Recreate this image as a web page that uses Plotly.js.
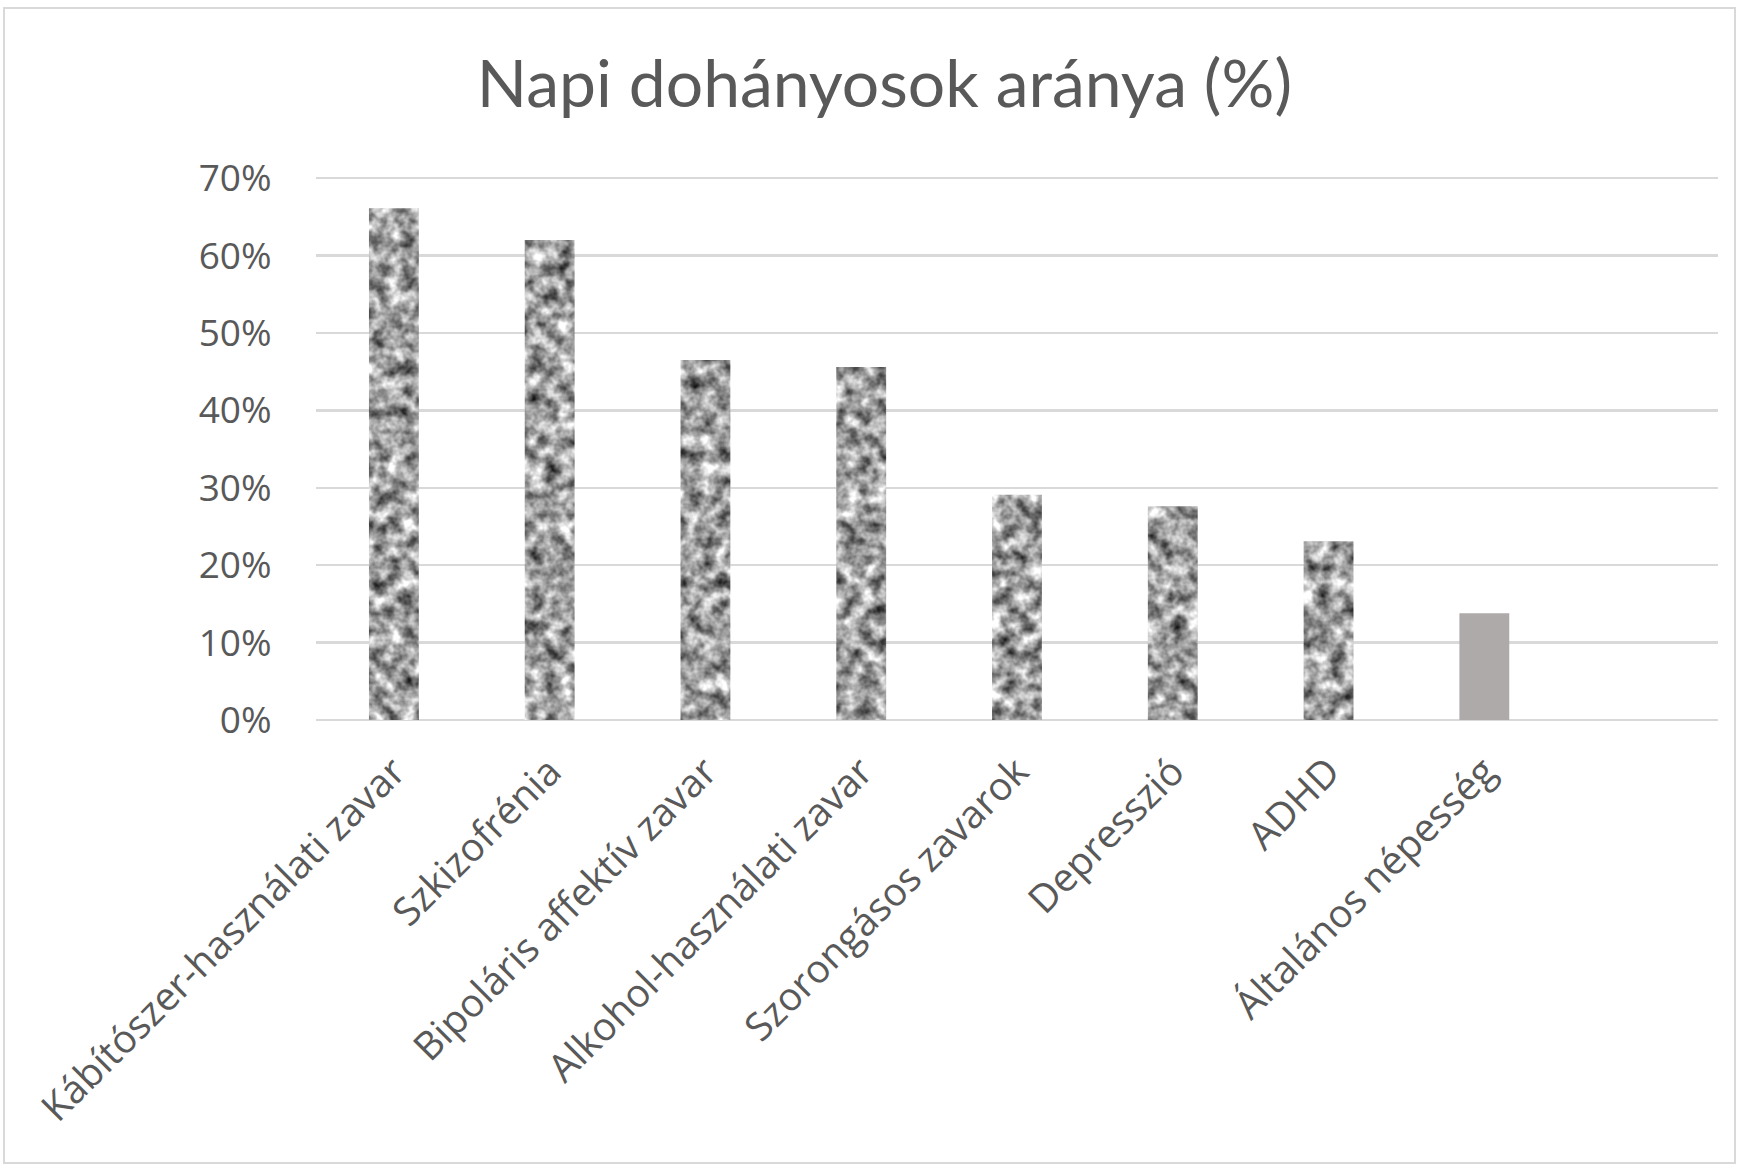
<!DOCTYPE html>
<html>
<head>
<meta charset="utf-8">
<script src="https://cdn.plot.ly/plotly-3.0.1.min.js"></script>
<style>
  html, body { margin: 0; padding: 0; background: #ffffff; }
  #frame { position: absolute; left: 3px; top: 7px; width: 1733px; height: 1157px; border: 2px solid #d9d9d9; box-sizing: border-box; }
  #chart { position: absolute; left: 0; top: 0; width: 1741px; height: 1168px; }
</style>
</head>
<body>
<div id="frame"></div>
<div id="chart"></div>
<script>
const categories = [
  "Kábítószer-használati zavar",
  "Szkizofrénia",
  "Bipoláris affektív zavar",
  "Alkohol-használati zavar",
  "Szorongásos zavarok",
  "Depresszió",
  "ADHD",
  "Általános népesség"
];
const values = [0.661, 0.620, 0.465, 0.456, 0.291, 0.276, 0.231, 0.138];
const yTicks = [0, 0.1, 0.2, 0.3, 0.4, 0.5, 0.6, 0.7];
const yTickLabels = ["0%", "10%", "20%", "30%", "40%", "50%", "60%", "70%"];

const barColors = categories.map((c, i) => i === categories.length - 1 ? "#aeaaaa" : "#a0a0a0");

const trace = {
  type: "bar",
  x: categories,
  y: values,
  width: 0.32,
  marker: { color: barColors, line: { width: 0 } },
  hoverinfo: "x+y"
};

const layout = {
  width: 1741,
  height: 1168,
  paper_bgcolor: "rgba(0,0,0,0)",
  plot_bgcolor: "rgba(0,0,0,0)",
  margin: { l: 316, r: 23, t: 177, b: 448 },
  showlegend: false,
  font: { family: "'Open Sans', Lato, sans-serif", color: "#595959" },
  title: {
    text: "Napi dohányosok aránya (%)",
    font: { family: "Lato, 'Open Sans', sans-serif", size: 66, color: "#595959" },
    x: 0.508, xanchor: "center",
    y: 0.928, yanchor: "middle"
  },
  xaxis: {
    type: "category",
    range: [-0.5, 8.5],
    tickangle: -45,
    tickfont: { family: "'Open Sans', sans-serif", size: 39, color: "#595959" },
    showgrid: false,
    zeroline: false,
    showline: false,
    ticks: "outside",
    ticklen: 12,
    tickcolor: "rgba(0,0,0,0)",
    fixedrange: true
  },
  yaxis: {
    range: [0, 0.7015],
    tickvals: yTicks,
    ticktext: yTickLabels,
    tickfont: { family: "'Open Sans', sans-serif", size: 37, color: "#595959" },
    showgrid: true,
    gridcolor: "#d9d9d9",
    gridwidth: 2.5,
    zeroline: true,
    zerolinecolor: "#d9d9d9",
    zerolinewidth: 2.5,
    showline: false,
    ticks: "outside",
    ticklen: 36,
    tickcolor: "rgba(0,0,0,0)",
    fixedrange: true
  }
};

Plotly.newPlot("chart", [trace], layout, { displayModeBar: false, staticPlot: true }).then(function () {
  const ns = "http://www.w3.org/2000/svg";
  const svg = document.querySelector("#chart .main-svg");
  let defs = svg.querySelector("defs");
  if (!defs) { defs = document.createElementNS(ns, "defs"); svg.insertBefore(defs, svg.firstChild); }
  const filter = document.createElementNS(ns, "filter");
  filter.setAttribute("id", "graniteTexture");
  filter.setAttribute("x", "0"); filter.setAttribute("y", "0");
  filter.setAttribute("width", "1"); filter.setAttribute("height", "1");
  filter.setAttribute("color-interpolation-filters", "sRGB");
  filter.innerHTML =
    '<feTurbulence type="fractalNoise" baseFrequency="0.07" numOctaves="3" seed="7" result="noise"/>' +
    '<feColorMatrix in="noise" type="matrix" values="1 0 0 0 0  1 0 0 0 0  1 0 0 0 0  0 0 0 0 1" result="grey"/>' +
    '<feComponentTransfer in="grey" result="contrast">' +
      '<feFuncR type="linear" slope="1.35" intercept="-0.05"/>' +
      '<feFuncG type="linear" slope="1.35" intercept="-0.05"/>' +
      '<feFuncB type="linear" slope="1.35" intercept="-0.05"/>' +
    '</feComponentTransfer>' +
    '<feComposite in="contrast" in2="SourceGraphic" operator="in"/>';
  defs.appendChild(filter);
  const paths = document.querySelectorAll("#chart .bars .point path");
  paths.forEach(function (p, i) {
    if (i < paths.length - 1) p.setAttribute("filter", "url(#graniteTexture)");
  });
});
</script>
</body>
</html>
